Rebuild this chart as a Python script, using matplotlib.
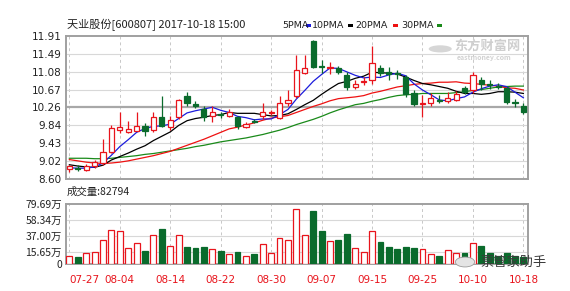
import matplotlib
matplotlib.use("Agg")
import matplotlib.pyplot as plt
from matplotlib.patches import Rectangle, Circle

plt.rcParams["font.family"] = ["Noto Sans CJK SC", "DejaVu Sans"]

# trading days shown on the chart (2017)
dates = ["07-27", "07-28", "07-31", "08-01", "08-02", "08-03", "08-04", "08-07", "08-08", "08-09",
         "08-10", "08-11", "08-14", "08-15", "08-16", "08-17", "08-18", "08-21", "08-22", "08-23",
         "08-24", "08-25", "08-28", "08-29", "08-30", "08-31", "09-01", "09-04", "09-05", "09-06",
         "09-07", "09-08", "09-11", "09-12", "09-13", "09-14", "09-15", "09-18", "09-19", "09-20",
         "09-21", "09-22", "09-25", "09-26", "09-27", "09-28", "09-29", "10-09", "10-10", "10-11",
         "10-12", "10-13", "10-16", "10-17", "10-18"]
tick_dates = ["07-27", "08-04", "08-14", "08-22", "08-30", "09-07", "09-15", "09-25", "10-10", "10-18"]

opens = [8.82, 8.85, 8.81, 8.89, 8.98, 9.22, 9.73, 9.69, 9.72, 9.83, 9.74, 10.03, 9.80, 10.03, 10.53,
         10.33, 10.23, 10.05, 10.10, 10.06, 10.03, 9.80, 9.95, 10.05, 10.12, 10.02, 10.35, 10.52, 11.06,
         11.80, 11.22, 11.16, 11.18, 11.01, 10.72, 10.85, 10.90, 11.16, 11.08, 11.05, 10.97, 10.60, 10.33,
         10.35, 10.42, 10.40, 10.44, 10.71, 10.66, 10.90, 10.80, 10.76, 10.70, 10.38, 10.29]
closes = [8.89, 8.84, 8.91, 9.00, 9.22, 9.79, 9.80, 9.76, 9.82, 9.70, 10.04, 9.83, 9.97, 10.44, 10.37,
          10.29, 10.04, 10.16, 10.07, 10.15, 9.83, 9.87, 9.93, 10.16, 10.14, 10.37, 10.44, 11.12, 11.17,
          11.20, 11.19, 11.19, 11.07, 10.74, 10.81, 10.87, 11.29, 11.05, 11.04, 11.02, 10.56, 10.33, 10.37,
          10.47, 10.40, 10.48, 10.56, 10.61, 11.01, 10.79, 10.77, 10.73, 10.38, 10.36, 10.15]
highs = [8.93, 8.93, 8.95, 9.04, 9.53, 9.86, 10.14, 9.94, 10.15, 9.90, 10.14, 10.52, 10.06, 10.46, 10.62,
         10.40, 10.28, 10.28, 10.16, 10.23, 10.05, 9.91, 9.98, 10.37, 10.20, 10.52, 10.67, 11.47, 11.47,
         11.82, 11.36, 11.31, 11.21, 11.08, 10.88, 10.97, 11.68, 11.24, 11.20, 11.12, 11.00, 10.65, 10.55,
         10.60, 10.55, 10.62, 10.63, 10.76, 11.08, 10.95, 10.88, 10.82, 10.74, 10.45, 10.37]
lows = [8.76, 8.78, 8.78, 8.86, 8.93, 9.20, 9.66, 9.66, 9.70, 9.60, 9.69, 9.80, 9.74, 9.98, 10.28,
        10.25, 9.94, 9.91, 10.01, 10.03, 9.76, 9.77, 9.89, 10.00, 10.08, 9.98, 10.30, 10.48, 11.02,
        11.17, 11.06, 11.03, 11.02, 10.67, 10.68, 10.78, 10.80, 10.98, 10.90, 10.92, 10.50, 10.28, 10.03,
        10.28, 10.36, 10.37, 10.40, 10.56, 10.60, 10.66, 10.68, 10.68, 10.33, 10.26, 10.10]
# volume in 万 (10k shares)
volumes = [9.9, 8.1, 13.5, 14.8, 31.2, 45.5, 43.2, 20.1, 27.6, 17.0, 37.9, 45.9, 23.6, 37.9, 22.3,
           20.1, 22.3, 18.8, 16.5, 12.5, 14.8, 10.3, 12.1, 25.5, 14.3, 34.3, 32.1, 73.5, 38.8, 70.3,
           43.6, 30.3, 32.1, 40.1, 20.1, 15.6, 43.6, 29.0, 21.5, 18.8, 22.3, 20.1, 18.8, 12.5, 9.9,
           17.9, 14.3, 14.3, 27.6, 23.2, 13.5, 9.9, 14.3, 9.9, 8.28]

ma5 = [8.86, 8.85, 8.85, 8.88, 8.97, 9.15, 9.35, 9.51, 9.68, 9.77, 9.82, 9.83, 9.87, 10.00, 10.13,
       10.18, 10.22, 10.26, 10.19, 10.14, 10.05, 10.02, 9.97, 9.99, 9.99, 10.09, 10.21, 10.45, 10.65,
       10.86, 11.02, 11.17, 11.16, 11.08, 11.00, 10.94, 10.96, 10.95, 11.01, 11.05, 10.99, 10.80, 10.66,
       10.55, 10.43, 10.41, 10.46, 10.50, 10.61, 10.69, 10.75, 10.78, 10.74, 10.61, 10.48]
ma10 = [8.93, 8.90, 8.88, 8.87, 8.92, 9.04, 9.12, 9.20, 9.29, 9.37, 9.49, 9.59, 9.69, 9.84, 9.95,
        10.00, 10.03, 10.07, 10.09, 10.14, 10.12, 10.12, 10.12, 10.09, 10.06, 10.07, 10.11, 10.21, 10.32,
        10.42, 10.56, 10.69, 10.81, 10.86, 10.93, 10.98, 11.07, 11.06, 11.05, 11.03, 10.96, 10.88, 10.81,
        10.78, 10.74, 10.70, 10.63, 10.58, 10.58, 10.56, 10.58, 10.62, 10.62, 10.61, 10.58]
ma20 = [9.05, 9.02, 8.99, 8.97, 8.96, 8.97, 8.99, 9.02, 9.06, 9.10, 9.14, 9.19, 9.24, 9.31, 9.38,
        9.45, 9.52, 9.60, 9.68, 9.76, 9.80, 9.85, 9.90, 9.96, 10.01, 10.04, 10.07, 10.14, 10.21,
        10.28, 10.34, 10.41, 10.46, 10.48, 10.50, 10.53, 10.59, 10.63, 10.68, 10.73, 10.76, 10.79, 10.81,
        10.82, 10.84, 10.84, 10.85, 10.82, 10.81, 10.79, 10.77, 10.75, 10.71, 10.70, 10.66]
ma30 = [9.08, 9.08, 9.08, 9.07, 9.07, 9.08, 9.10, 9.12, 9.14, 9.17, 9.19, 9.22, 9.25, 9.28, 9.31,
        9.35, 9.38, 9.42, 9.46, 9.49, 9.52, 9.55, 9.59, 9.63, 9.68, 9.73, 9.79, 9.86, 9.92,
        9.98, 10.05, 10.13, 10.20, 10.26, 10.32, 10.35, 10.40, 10.44, 10.49, 10.53, 10.55, 10.56, 10.58,
        10.58, 10.58, 10.58, 10.60, 10.62, 10.65, 10.67, 10.70, 10.73, 10.74, 10.75, 10.75]

price_ticks = [8.60, 9.02, 9.43, 9.84, 10.26, 10.67, 11.08, 11.49, 11.91]
vol_ticks = [0, 15.65, 37.00, 58.34, 79.69]

UP = "#e8141c"
DOWN = "#0a6b2c"
GRID = "#d8d8d8"
FRAME = "#a0a0a0"

W, H = 570, 291


def fx(x):
    return x / W


def fy(y):
    return 1 - y / H


fig = plt.figure(figsize=(W / 100, H / 100), dpi=100)
fig.patch.set_facecolor("white")

ax = fig.add_axes([fx(66), fy(179), fx(528) - fx(66), fy(36) - fy(179)])
axv = fig.add_axes([fx(66), fy(263.5), fx(528) - fx(66), fy(204) - fy(263.5)])

xs = list(range(len(dates)))
tick_idx = [dates.index(d) for d in tick_dates]

for a in (ax, axv):
    a.set_xlim(-0.4, len(dates) - 0.45)
    for x in tick_idx:
        a.axvline(x, color="#c8c8c8", lw=0.7, ls=(0, (3, 3)), zorder=0)
    for s in a.spines.values():
        s.set_color(FRAME)
        s.set_linewidth(1.4)
    a.tick_params(length=0, labelsize=7.5, colors="#222222", pad=3)

# price panel
ax.set_ylim(price_ticks[0], price_ticks[-1])
for p in price_ticks[1:-1]:
    lw, col = (1.6, "#a8a8a8") if p == 10.26 else (0.8, GRID)
    ax.axhline(p, color=col, lw=lw, zorder=0)
ax.set_yticks(price_ticks)
ax.set_yticklabels([f"{p:.2f}" for p in price_ticks], family="DejaVu Sans")
ax.set_xticks([])

ax.plot(xs, ma30, color="#1a8a1a", lw=0.9, zorder=2)
ax.plot(xs, ma20, color="#ee1111", lw=0.9, zorder=2)
ax.plot(xs, ma10, color="black", lw=0.9, zorder=2)
ax.plot(xs, ma5, color="#1c1cdc", lw=0.9, zorder=2)

bw = 0.62
for i in xs:
    o, c, h, l = opens[i], closes[i], highs[i], lows[i]
    up = c >= o
    col = UP if up else DOWN
    ax.vlines(i, l, h, color=col, lw=0.9, zorder=3)
    body = max(abs(c - o), 0.012)
    ax.add_patch(Rectangle((i - bw / 2, min(o, c)), bw, body,
                           facecolor="white" if up else DOWN, edgecolor=col, lw=0.9, zorder=4))

# watermark in the price panel
ax.text(0.84, 0.93, "东方财富网", transform=ax.transAxes, color="#cfcfcf", fontsize=9.5,
        fontweight="bold", ha="left", va="center", zorder=1)
ax.text(0.845, 0.85, "eastmoney.com", transform=ax.transAxes, color="#d2d2d2", fontsize=5,
        fontweight="bold", ha="left", va="center", zorder=1)
ax.add_patch(Circle((0.81, 0.91), 0.025, transform=ax.transAxes, facecolor="#d6d6d6",
                    edgecolor="none", zorder=1))

# volume panel
axv.set_ylim(0, vol_ticks[-1])
for v in vol_ticks[1:-1]:
    axv.axhline(v, color=GRID, lw=0.8, zorder=0)
axv.set_yticks(vol_ticks)
axv.set_yticklabels(["0"] + [f"{v:.2f}万" for v in vol_ticks[1:]])
axv.set_xticks(tick_idx)
axv.set_xticklabels(tick_dates, family="DejaVu Sans", color=UP, fontsize=7.5)
axv.tick_params(axis="x", pad=8, colors=UP)
axv.get_xticklabels()[0].set_horizontalalignment("left")

vw = 0.7
for i in xs:
    up = closes[i] >= opens[i]
    col = UP if up else DOWN
    axv.bar(i, volumes[i], width=vw, facecolor="white" if up else DOWN, edgecolor=col,
            lw=0.9, zorder=3)

# header texts
fig.text(fx(67), fy(25), "天业股份[600807] 2017-10-18 15:00", fontsize=8, va="center", ha="left",
         color="#222222")
legend = [("5PMA", 282, "#1c1cdc", 306), ("10PMA", 312, "black", 348),
          ("20PMA", 355, "#ee1111", 393), ("30PMA", 401, "#1a8a1a", 437)]
for label, x, col, bx in legend:
    fig.text(fx(x), fy(25), label, fontsize=6.8, va="center", ha="left", color="#222222",
             family="DejaVu Sans")
    fig.patches.append(Rectangle((fx(bx), fy(27)), fx(5), fy(0) - fy(3), transform=fig.transFigure,
                                 facecolor=col, edgecolor="none"))

fig.text(fx(67), fy(192), "成交量:82794", fontsize=7.5, va="center", ha="left", color="#222222")

# bottom-right badge
fig.patches.append(Circle((fx(465), fy(262)), 0.017, transform=fig.transFigure,
                          facecolor="#e4e4e4", edgecolor="#9a9a9a", lw=0.6, zorder=5))
fig.text(fx(480), fy(262), "票管家助手", fontsize=9.5, va="center", ha="left", color="#3a3a3a",
         zorder=6)

fig.savefig("out.png", dpi=100)
